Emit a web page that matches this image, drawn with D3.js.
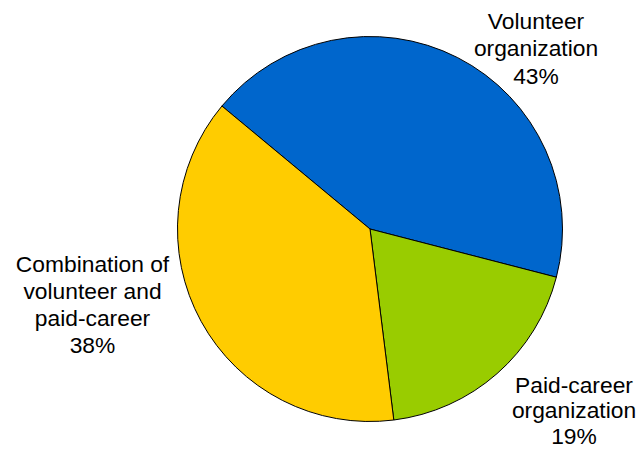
<!DOCTYPE html>
<html>
<head>
<meta charset="utf-8">
<script src="https://cdn.jsdelivr.net/npm/d3@7"></script>
<style>
  html, body { margin: 0; padding: 0; background: #fff; }
  svg { display: block; }
  text { font-family: "Liberation Sans", Arial, sans-serif; font-size: 22.8px; fill: #000; }
</style>
</head>
<body>
<svg id="chart" width="637" height="451"></svg>
<script>
// Organization types and their shares (percent)
const categories = ["Volunteer organization", "Paid-career organization", "Combination of volunteer and paid-career"];
const values = [43, 19, 38];
const colors = ["#0066CC", "#99CC00", "#FFCC00"];
// Label lines for each slice
const labelLines = [
  ["Volunteer", "organization", "43%"],
  ["Paid-career", "organization", "19%"],
  ["Combination of", "volunteer and", "paid-career", "38%"]
];

const width = 637, height = 451;
const cx = 370, cy = 229, radius = 192.5;
const startDeg = -50.3;

const svg = d3.select("#chart");
const g = svg.append("g").attr("transform", `translate(${cx},${cy})`);

const pie = d3.pie()
  .sort(null)
  .value(d => d)
  .startAngle(startDeg * Math.PI / 180)
  .endAngle((startDeg + 360) * Math.PI / 180);

const arc = d3.arc().innerRadius(0).outerRadius(radius);
const arcs = pie(values);

g.selectAll("path.slice")
  .data(arcs)
  .join("path")
  .attr("class", "slice")
  .attr("d", arc)
  .attr("fill", (d, i) => colors[i])
  .attr("stroke", "#000")
  .attr("stroke-width", 1)
  .attr("stroke-linejoin", "round");

// Label block placement: center x and first baseline y, plus line spacing
const labelPos = [
  { x: 536, y: 28.5, dy: 27.5 },
  { x: 574, y: 392.5, dy: 25.5 },
  { x: 92.5, y: 271.5, dy: 27 }
];

labelLines.forEach((lines, i) => {
  const p = labelPos[i];
  const t = svg.append("text")
    .attr("text-anchor", "middle")
    .attr("x", p.x)
    .attr("y", p.y);
  lines.forEach((line, j) => {
    t.append("tspan")
      .attr("x", p.x)
      .attr("y", p.y + j * p.dy)
      .text(line);
  });
});
</script>
</body>
</html>
